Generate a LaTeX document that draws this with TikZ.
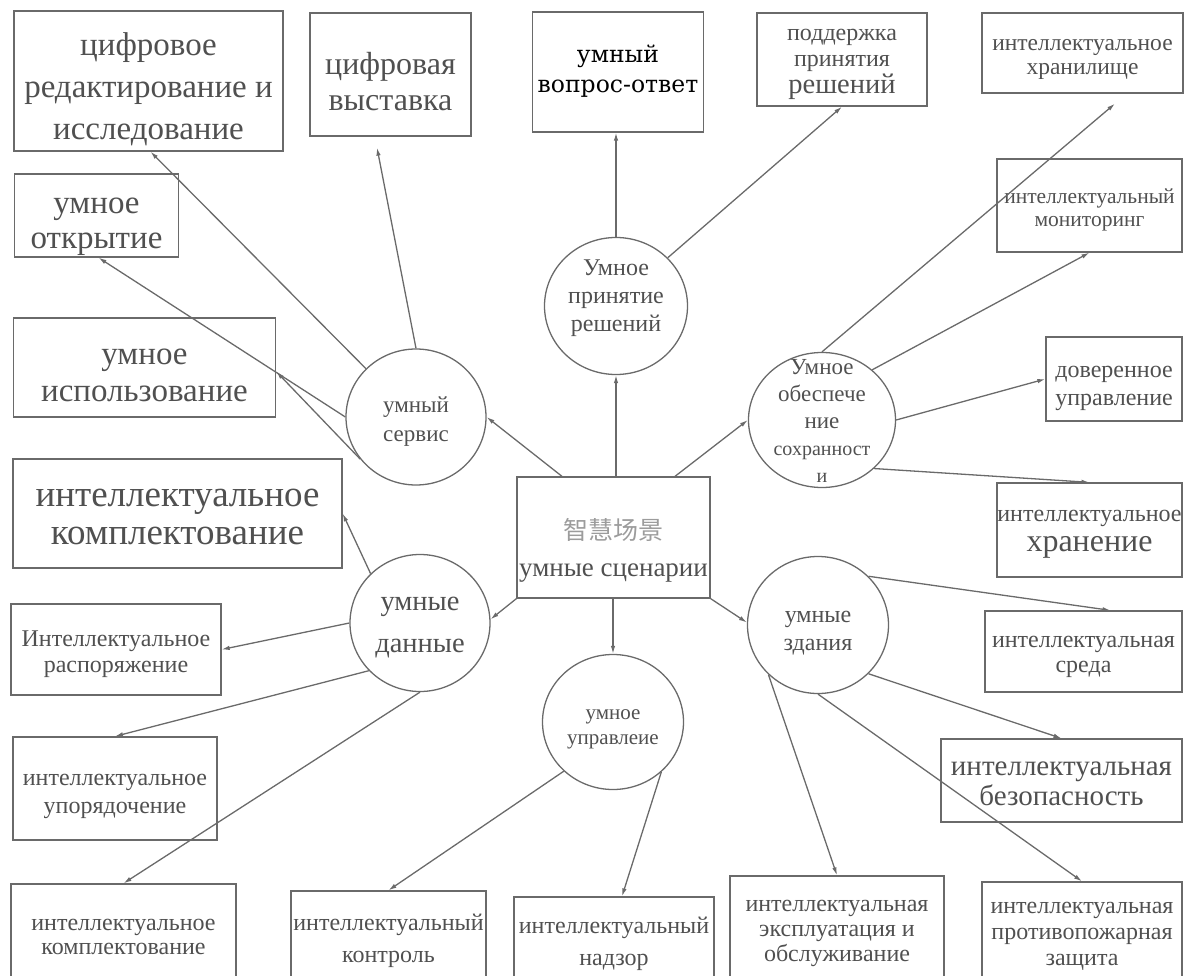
\documentclass[tikz,border=0pt]{standalone}
\usepackage{fontspec}
\setmainfont{Liberation Serif}
\newfontfamily\qafont{DejaVu Serif}
\newfontfamily\cjk{Noto Sans CJK SC}
\usepackage{tikz}
\usetikzlibrary{shapes.geometric,arrows.meta,calc}
\definecolor{linegray}{HTML}{6A6A6A}
\definecolor{txtgray}{HTML}{505050}
\definecolor{cjkgray}{HTML}{9C9C9C}
\newcommand{\fsz}[2]{\fontsize{#1}{#2}\selectfont}

\begin{document}
\begin{tikzpicture}[x=1pt, y=-1pt,
  box/.style={draw=linegray, line width=1.3pt, inner sep=0pt},
  hub/.style={ellipse, draw=linegray, line width=1.3pt, inner sep=0pt, minimum width=140pt, minimum height=136pt},
  txt/.style={text=txtgray, align=center, inner sep=0pt},
  arr/.style={draw=linegray, line width=1.3pt, -{Latex[length=8pt,width=4.5pt]}}]
      \useasboundingbox (0,0) rectangle (1184,976);
      \clip (0,0) rectangle (1184,976);

      \node[box, minimum width=193, minimum height=121,
        label={[txt, yshift=-13pt, font=\fsz{27}{37}]center:{\cjk\color{cjkgray}\fsz{25}{37}智慧场景\\умные сценарии}}] (sc) at (613.5,537.5) {};

      \node[hub, label={[txt, yshift=-5pt, font=\fsz{23}{29}]center:{умный\\сервис}}] (serv) at (416,417) {};
      \node[hub, minimum width=143, minimum height=137, label={[txt, yshift=8pt, font=\fsz{24}{28}]center:{Умное\\принятие\\решений}}] (dec) at (616,306) {};
      \node[hub, minimum width=147, minimum height=135, label={[txt, yshift=-1pt, font=\fsz{23}{27}]center:{Умное\\обеспече\\ние\\\fsz{20}{25}сохранност\\\fsz{20}{23}и}}] (safe) at (822,420) {};
      \node[hub, minimum height=137, label={[txt, yshift=-5pt, font=\fsz{28.5}{42}]center:{умные\\данные}}] (data) at (420,623) {};
      \node[hub, minimum width=141, minimum height=137, label={[txt, yshift=-8pt, font=\fsz{24}{28}]center:{умные\\здания}}] (bld) at (818,625) {};
      \node[hub, minimum width=141, minimum height=135, label={[txt, yshift=-7pt, font=\fsz{21}{25}]center:{умное\\управлеие}}] (mgmt) at (613,722) {};

      \node[box, minimum width=269, minimum height=140, label={[txt, yshift=-8pt, font=\fsz{33}{42}]center:{цифровое\\редактирование и\\исследование}}] (edit) at (148.5,81) {};
      \node[box, minimum width=161, minimum height=123, label={[txt, yshift=-7.5pt, font=\fsz{32}{36}]center:{цифровая\\выставка}}] (expo) at (390.5,74.5) {};
      \node[box, minimum width=171, minimum height=120, label={[txt, yshift=1pt, text=black, font=\qafont\fsz{23.5}{30}]center:{умный\\вопрос-ответ}}] (qa) at (618,72) {};
      \node[box, minimum width=170, minimum height=93, label={[txt, yshift=-5pt, font=\fsz{24}{26}]center:{поддержка\\принятия\\[1pt]\fsz{28.5}{28}решений}}] (supp) at (842,59.5) {};
      \node[box, minimum width=201, minimum height=80, label={[txt, yshift=-6pt, font=\fsz{23.5}{24}]center:{интеллектуальное\\хранилище}}] (store) at (1082.5,53) {};
      \node[box, minimum width=164, minimum height=83, label={[txt, yshift=-11pt, font=\fsz{33}{35}]center:{умное\\открытие}}] (open) at (96.5,215.5) {};
      \node[box, minimum width=262, minimum height=99, label={[txt, yshift=-8pt, font=\fsz{33}{37}]center:{умное\\использование}}] (usage) at (144.5,367.5) {};
      \node[box, minimum width=185, minimum height=93, label={[txt, yshift=-4pt, font=\fsz{21.5}{23}]center:{интеллектуальный\\мониторинг}}] (monit) at (1089.5,205.5) {};
      \node[box, minimum width=136, minimum height=84, label={[txt, yshift=-9pt, font=\fsz{24}{28}]center:{доверенное\\управление}}] (trust) at (1114,379) {};
      \node[box, minimum width=185, minimum height=94, label={[txt, yshift=-4pt, font=\fsz{24}{30}]center:{интеллектуальное\\\fsz{32}{30}хранение}}] (keep) at (1089.5,530) {};
      \node[box, minimum width=329, minimum height=109, label={[txt, yshift=-3pt, font=\fsz{37}{38}]center:{интеллектуальное\\комплектование}}] (acq) at (177.5,513.5) {};
      \node[box, minimum width=210, minimum height=91, label={[txt, yshift=-5pt, font=\fsz{24}{26}]center:{Интеллектуальное\\распоряжение}}] (disp) at (116,649.5) {};
      \node[box, minimum width=197, minimum height=81, label={[txt, yshift=-5pt, font=\fsz{24}{25}]center:{интеллектуальная\\среда}}] (env) at (1083.5,651.5) {};
      \node[box, minimum width=204, minimum height=103, label={[txt, yshift=-8pt, font=\fsz{24}{28}]center:{интеллектуальное\\упорядочение}}] (order) at (115,788.5) {};
      \node[box, minimum width=241, minimum height=83, label={[txt, yshift=-3pt, font=\fsz{29}{30}]center:{интеллектуальная\\безопасность}}] (secur) at (1061.5,780.5) {};
      \node[box, minimum width=225, minimum height=106, label={[txt, font=\fsz{24}{24}]center:{интеллектуальное\\комплектование}}] (acq2) at (123.5,937) {};
      \node[box, minimum width=195, minimum height=99, label={[txt, font=\fsz{24}{32}]center:{интеллектуальный\\контроль}}] (ctrl) at (388.5,940.5) {};
      \node[box, minimum width=200, minimum height=93, label={[txt, font=\fsz{24}{32}]center:{интеллектуальный\\надзор}}] (superv) at (614,943.5) {};
      \node[box, minimum width=214, minimum height=114, label={[txt, font=\fsz{24}{25}]center:{интеллектуальная\\эксплуатация и\\обслуживание}}] (maint) at (837,933) {};
      \node[box, minimum width=200, minimum height=108, label={[txt, font=\fsz{24}{26}]center:{интеллектуальная\\противопожарная\\защита}}] (fire) at (1082,936) {};

      \draw[arr] ([xshift=-51.5pt]sc.north) -- (serv.east);
      \draw[arr] (sc.north -| dec.south) -- (dec.south);
      \draw[arr] ([xshift=61.5pt]sc.north) -- (safe.west);
      \draw[arr] (sc.south west) -- (data.3);
      \draw[arr] (sc.south east) -- (bld.178);
      \draw[arr] (sc.south -| mgmt.north) -- (mgmt.north);

      \draw[arr] (serv.136) -- ([xshift=2pt]edit.south);
      \draw[arr] (serv.west) -- ([xshift=2pt]open.south);
      \draw[arr] (serv.217) -- ([yshift=-4pt]usage.east);
      \draw[arr] (serv.north) -- ([xshift=-13.5pt,yshift=-11pt]expo.south);

      \draw[arr] (dec.north) -- (dec.north |- qa.south);
      \draw[arr] (dec.43) -- (supp.south);

      \draw[arr] (safe.north) -- ([xshift=32.5pt,yshift=-10pt]store.south);
      \draw[arr] (safe.45) -- (monit.south);
      \draw[arr] (safe.east) -- (trust.west);
      \draw[arr] (safe.-43) -- (keep.north);

      \draw[arr] (data.135) -- (acq.east);
      \draw[arr] (data.west) -- (disp.east);
      \draw[arr] (data.223) -- (order.north);
      \draw[arr] (data.south) -- (acq2.north);

      \draw[arr] (bld.44) -- ([xshift=27pt]env.north);
      \draw[arr] (bld.-44) -- (secur.north);
      \draw[arr] (bld.225) -- (maint.north);
      \draw[arr] (bld.south) -- (fire.north);

      \draw[arr] (mgmt.225) -- (ctrl.north);
      \draw[arr] (mgmt.-46) -- ([xshift=8pt]superv.north);
\end{tikzpicture}
\end{document}
